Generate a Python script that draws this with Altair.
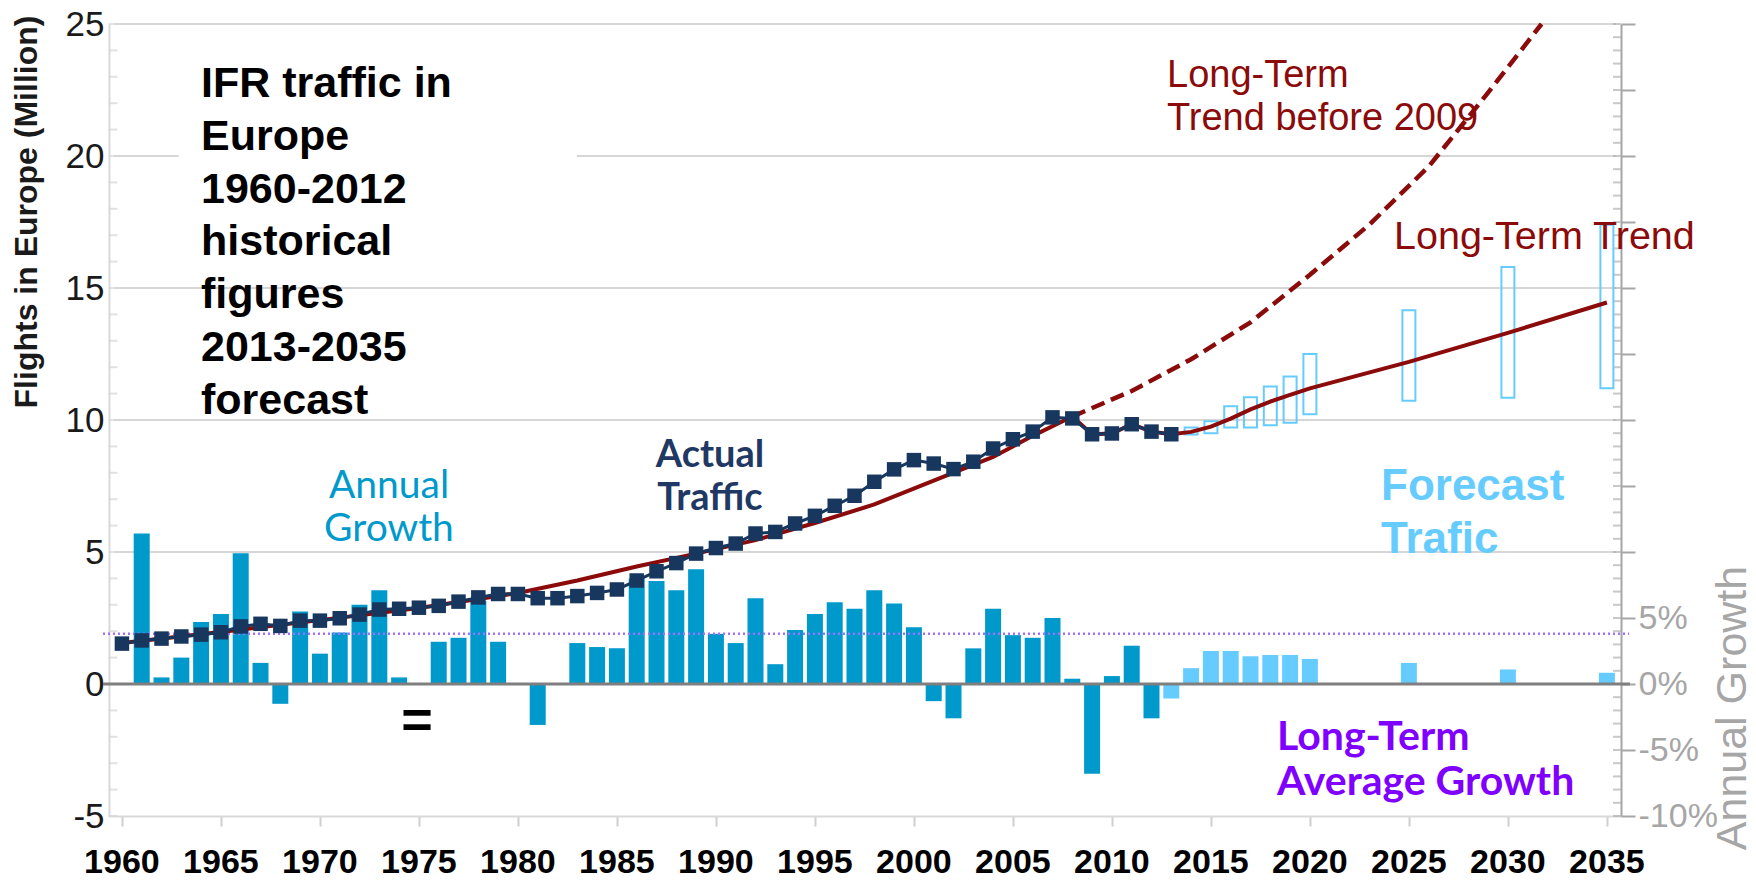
import altair as alt
import pandas as pd

# ---------------- data ----------------
actual_years = list(range(1960, 2014))
actual_traffic = [1.53, 1.65, 1.72, 1.80, 1.87, 1.96, 2.18, 2.28, 2.20, 2.40,
                  2.40, 2.49, 2.63, 2.82, 2.85, 2.89, 2.96, 3.12, 3.28, 3.41,
                  3.41, 3.25, 3.25, 3.33, 3.45, 3.58, 3.92, 4.27, 4.58, 4.94,
                  5.15, 5.32, 5.70, 5.76, 6.08, 6.37, 6.75, 7.13, 7.66, 8.13,
                  8.48, 8.35, 8.14, 8.42, 8.92, 9.27, 9.56, 10.10, 10.06, 9.46,
                  9.49, 9.84, 9.56, 9.46]

growth_years = list(range(1961, 2013))
growth_pct = [11.4, 0.5, 2.0, 4.7, 5.3, 9.9, 1.6, -1.5, 5.5, 2.3,
              3.9, 6.0, 7.1, 0.5, 0.0, 3.2, 3.5, 6.3, 3.2, 0.0,
              -3.1, 0.0, 3.1, 2.8, 2.7, 8.0, 7.8, 7.1, 8.7, 3.8,
              3.1, 6.5, 1.5, 4.1, 5.3, 6.2, 5.7, 7.1, 6.1, 4.3,
              -1.3, -2.6, 2.7, 5.7, 3.7, 3.5, 5.0, 0.4, -6.8, 0.6,
              2.9, -2.6]

fc_growth_years = [2013, 2014, 2015, 2016, 2017, 2018, 2019, 2020, 2025, 2030, 2035]
fc_growth_pct = [-1.1, 1.2, 2.5, 2.5, 2.1, 2.2, 2.2, 1.9, 1.6, 1.1, 0.85]

fc_years = [2014, 2015, 2016, 2017, 2018, 2019, 2020, 2025, 2030, 2035]
fc_low = [9.45, 9.50, 9.72, 9.72, 9.80, 9.90, 10.22, 10.73, 10.84, 11.20]
fc_high = [9.72, 9.95, 10.52, 10.86, 11.27, 11.65, 12.50, 14.16, 15.80, 17.40]

trend_years = [1960, 1965, 1970, 1975, 1978, 1980, 1983, 1986, 1989, 1992, 1995,
               1998, 2001, 2004, 2006, 2008, 2009, 2010, 2011, 2012, 2013, 2014,
               2015, 2016, 2017, 2018, 2019, 2020, 2025, 2030, 2035]
trend_values = [1.55, 1.97, 2.42, 2.88, 3.22, 3.45, 3.92, 4.45, 4.94, 5.45, 6.10,
                6.80, 7.70, 8.60, 9.40, 10.13, 9.46, 9.49, 9.84, 9.56, 9.46, 9.55,
                9.75, 10.05, 10.40, 10.70, 10.95, 11.20, 12.20, 13.30, 14.45]

pre2009_years = [2008, 2011, 2014, 2017, 2020, 2023, 2026, 2029, 2031.7]
pre2009_values = [10.13, 11.10, 12.30, 13.70, 15.50, 17.40, 19.60, 22.40, 25.00]

avg_growth_pct = [3.8]

left_ticks = [-5, 0, 5, 10, 15, 20, 25]
right_ticks = list(range(-10, 55, 5))
x_ticks = list(range(1960, 2036, 5))
grid_values = [5, 10, 15, 25, 20, 20]

# ---------------- layout ----------------
W, H = 1512, 792
X0, X1 = 1959.6, 2035.46
xs = alt.Scale(domain=[X0, X1], nice=False, zero=False)
yl = alt.Scale(domain=[-5, 25], nice=False, zero=False)
yr = alt.Scale(domain=[-10, 50], nice=False, zero=False)

ARIAL = "Liberation Sans, Arial, sans-serif"
CAL = "Lato, Calibri, sans-serif"
DARKRED = "#8b0a0a"
NAVY = "#17375e"
TEAL = "#0099cc"
LIGHT = "#66ccff"

x_axis = alt.Axis(values=x_ticks, labels=False, title=None, grid=False,
                  domainColor="#d9d9d9", domainWidth=2, tickColor="#cfcfcf", tickWidth=2,
                  tickSize=10)
left_axis = alt.Axis(orient="left", values=left_ticks, labelExpr="datum.value + ''", title=None,
                     grid=False, ticks=False, domainColor="#d9d9d9", domainWidth=2,
                     labelFont=ARIAL, labelFontSize=35, labelColor="#1a1a1a", labelPadding=5,
                     labelFlush=False, labelOverlap=False)
right_axis = alt.Axis(orient="right", values=right_ticks,
                      labelExpr="datum.value <= 5 ? datum.value + '%' : ''", title=None,
                      grid=False, domainColor="#a6a6a6", domainWidth=2, tickColor="#a6a6a6",
                      tickWidth=2, tickSize=14, labelFont=ARIAL, labelFontSize=34,
                      labelColor="#a6a6a6", labelPadding=3, labelFlush=False, labelOverlap=False)

dummy = pd.DataFrame({"d": [0]})

# ---------- group 1: grid + left axis ----------
grid_df = pd.DataFrame({
    "y": grid_values,
    "x0": [X0, X0, X0, X0, X0, 1982.98],
    "x1": [X1, X1, X1, X1, 1962.86, X1],
})
grid = alt.Chart(grid_df).mark_rule(color="#d6d6d6", strokeWidth=2).encode(
    x=alt.X("x0:Q", scale=xs, axis=x_axis), x2="x1:Q",
    y=alt.Y("y:Q", scale=yl, axis=left_axis))
lminor = alt.Chart(pd.DataFrame({"v": list(range(-5, 26))})).mark_tick(
    orient="horizontal", size=9, thickness=2, color="#d6d6d6").encode(
    y=alt.Y("v:Q", scale=yl, axis=left_axis), x=alt.value(4))
g1 = alt.layer(grid, lminor)

# ---------- group 2: annual growth bars (right axis, %) ----------
hist_df = pd.DataFrame({"year": growth_years, "g": growth_pct})
fcg_df = pd.DataFrame({"year": fc_growth_years, "g": fc_growth_pct})
bars_hist = alt.Chart(hist_df).mark_bar(size=16, color=TEAL).encode(
    x=alt.X("year:Q", scale=xs, axis=x_axis),
    y=alt.Y("g:Q", scale=yr, axis=right_axis))
bars_fc = alt.Chart(fcg_df).mark_bar(size=16, color=LIGHT).encode(
    x=alt.X("year:Q", scale=xs, axis=x_axis),
    y=alt.Y("g:Q", scale=yr, axis=right_axis))
avg = alt.Chart(pd.DataFrame({"g": avg_growth_pct})).mark_rule(
    color="#a070ff", strokeWidth=2.5, strokeDash=[2, 3]).encode(
    y=alt.Y("g:Q", scale=yr, axis=right_axis), x=alt.value(-6), x2=alt.value(W + 8))
rminor = alt.Chart(pd.DataFrame({"v": list(range(-10, 51))})).mark_tick(
    orient="horizontal", size=8, thickness=2, color="#b0b0b0").encode(
    y=alt.Y("v:Q", scale=yr, axis=right_axis), x=alt.value(W - 4))
g2 = alt.layer(bars_hist, bars_fc, avg, rminor)

# ---------- group 3: traffic, trends, forecast, annotations ----------
zero = alt.Chart(pd.DataFrame({"y": [0]})).mark_rule(color="#7f7f7f", strokeWidth=3).encode(
    y=alt.Y("y:Q", scale=yl, axis=None), x=alt.value(-6), x2=alt.value(W + 9))
fc_df = pd.DataFrame({"year": fc_years, "lo": fc_low, "hi": fc_high})
boxes = alt.Chart(fc_df).mark_bar(size=13, fill="#ffffff", fillOpacity=0, stroke=LIGHT,
                                  strokeWidth=2).encode(
    x=alt.X("year:Q", scale=xs, axis=x_axis),
    y=alt.Y("lo:Q", scale=yl, axis=None), y2="hi:Q")
trend = alt.Chart(pd.DataFrame({"year": trend_years, "v": trend_values})).mark_line(
    color=DARKRED, strokeWidth=4).encode(
    x=alt.X("year:Q", scale=xs, axis=x_axis), y=alt.Y("v:Q", scale=yl, axis=None))
pre = alt.Chart(pd.DataFrame({"year": pre2009_years, "v": pre2009_values})).mark_line(
    color=DARKRED, strokeWidth=4.5, strokeDash=[14, 7]).encode(
    x=alt.X("year:Q", scale=xs, axis=x_axis), y=alt.Y("v:Q", scale=yl, axis=None))
act_df = pd.DataFrame({"year": actual_years, "v": actual_traffic})
act_line = alt.Chart(act_df).mark_line(color=NAVY, strokeWidth=3).encode(
    x=alt.X("year:Q", scale=xs, axis=x_axis), y=alt.Y("v:Q", scale=yl, axis=None))
act_pts = alt.Chart(act_df).mark_square(size=210, color=NAVY, opacity=1).encode(
    x=alt.X("year:Q", scale=xs, axis=x_axis), y=alt.Y("v:Q", scale=yl, axis=None))

# x-axis year labels (drawn through the x scale)
x_labels = alt.Chart(pd.DataFrame({"year": x_ticks})).mark_text(
    font=ARIAL, fontSize=34, fontWeight="bold", color="#000000",
    align="center", baseline="middle").encode(
    x=alt.X("year:Q", scale=xs, axis=x_axis),
    y=alt.value(H + 47),
    text=alt.Text("year:Q", format="d"))


def label(text, x, y, size, color, font=ARIAL, weight="normal", align="left",
          baseline="top", lh=None, angle=None):
    kw = dict(text=text, font=font, fontSize=size, fontWeight=weight, color=color,
              align=align, baseline=baseline)
    if "\n" in text:
        kw["lineBreak"] = "\n"
        kw["lineHeight"] = lh
    if angle is not None:
        kw["angle"] = angle
    return alt.Chart(dummy).mark_text(**kw).encode(x=alt.value(x), y=alt.value(y))


texts = [
    label("IFR traffic in\nEurope\n1960-2012\nhistorical\nfigures\n2013-2035\nforecast",
          92, 39, 43, "#000000", weight="bold", lh=52.8),
    label("Annual\nGrowth", 280, 443, 39, TEAL, font=CAL, align="center", lh=43),
    label("Actual\nTraffic", 601, 413, 38, "#1f3864", font=CAL, weight="bold",
          align="center", lh=43),
    label("Long-Term\nTrend before 2009", 1058, 33, 38, DARKRED, lh=43),
    label("Long-Term Trend", 1285, 213, 39.5, DARKRED, baseline="middle"),
    label("Forecast\nTrafic", 1272, 441, 44, LIGHT, weight="bold", lh=53),
    label("Long-Term\nAverage Growth", 1168, 694, 41, "#8000ff", font=CAL,
          weight="bold", lh=44.5),
    label("=", 308, 698, 54, "#000000", weight="bold", align="center", baseline="middle"),
    label("Flights in Europe (Million)", -82, 188, 32, "#1a1a1a", weight="bold",
          align="center", baseline="middle", angle=270),
    label("Annual Growth", 1624, 684, 43, "#a6a6a6", align="center",
          baseline="middle", angle=270),
]

g3 = alt.layer(zero, boxes, trend, pre, act_line, act_pts, x_labels, *texts)

chart = alt.layer(g1, g2, g3).resolve_scale(y="independent").properties(
    width=W, height=H,
    autosize=alt.AutoSizeParams(type="none"),
    padding={"left": 101, "top": 16, "right": 127, "bottom": 60},
    background="#ffffff",
).configure_view(strokeWidth=0)

chart.save("out.html", embed_options={"renderer": "svg", "actions": False})
